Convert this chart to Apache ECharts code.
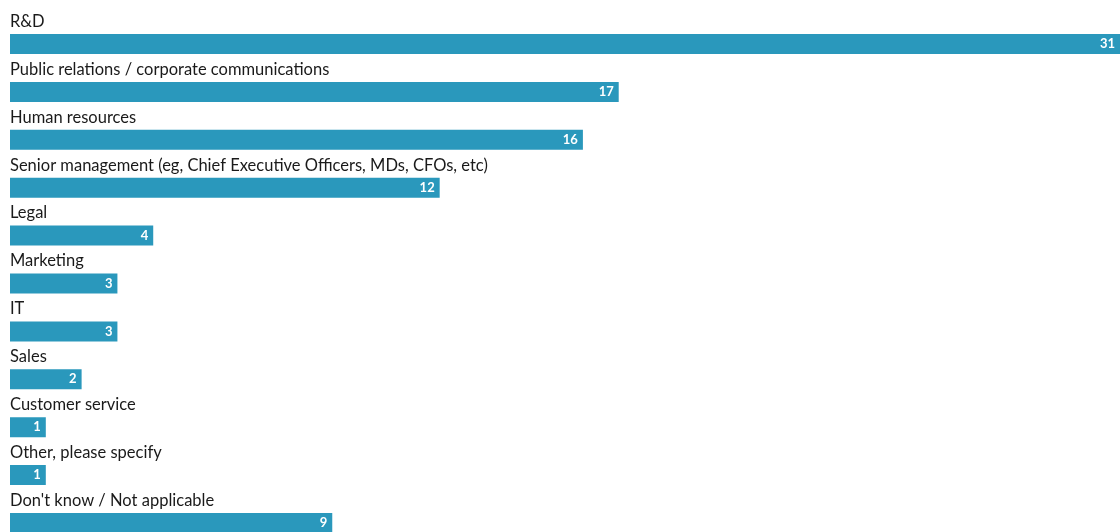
<!DOCTYPE html>
<html>
<head>
<meta charset="utf-8">
<script src="https://cdn.jsdelivr.net/npm/echarts@6/dist/echarts.min.js"></script>
<style>
  html, body { margin: 0; padding: 0; background: #fff; }
  #chart { width: 1120px; height: 532px; }
</style>
</head>
<body>
<div id="chart"></div>
<script>
// Survey responses by department (count of respondents)
const categories = [
  'R&D',
  'Public relations / corporate communications',
  'Human resources',
  'Senior management (eg, Chief Executive Officers, MDs, CFOs, etc)',
  'Legal',
  'Marketing',
  'IT',
  'Sales',
  'Customer service',
  'Other, please specify',
  "Don't know / Not applicable"
];
const values = [31, 17, 16, 12, 4, 3, 3, 2, 1, 1, 9];

const chart = echarts.init(document.getElementById('chart'));
chart.setOption({
  animation: false,
  grid: { left: 10, right: 0, top: 44, bottom: 9, containLabel: false },
  xAxis: {
    type: 'value',
    min: 0,
    max: 31,
    show: false
  },
  yAxis: {
    type: 'category',
    data: categories,
    inverse: true,
    boundaryGap: false,
    axisLine: { show: false },
    axisTick: { show: false },
    splitLine: { show: false },
    axisLabel: {
      inside: true,
      margin: 0,
      align: 'left',
      verticalAlign: 'bottom',
      padding: [0, 0, 14, 0],
      color: '#1a1a1a',
      fontFamily: 'Lato',
      fontSize: 16.5
    }
  },
  series: [{
    type: 'bar',
    data: values,
    barWidth: 20,
    itemStyle: { color: '#2a98bc' },
    label: {
      show: true,
      position: 'insideRight',
      distance: 5,
      color: '#fff',
      fontFamily: 'Lato',
      fontWeight: 'bold',
      fontSize: 13
    }
  }]
});
</script>
</body>
</html>
